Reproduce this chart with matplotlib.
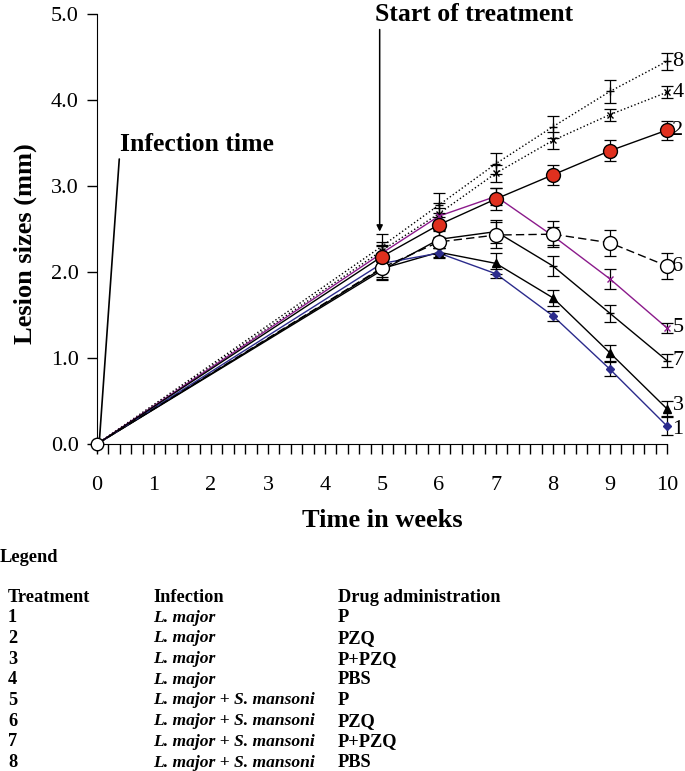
import matplotlib
matplotlib.use("Agg")
import matplotlib.pyplot as plt
import numpy as np

plt.rcParams['font.family'] = ['Liberation Serif', 'DejaVu Serif']

# data: weeks and lesion sizes (mm) per treatment
weeks = [0, 5, 6, 7, 8, 9, 10]

t1 = [0, 2.10, 2.22, 1.98, 1.49, 0.87, 0.21]
t2 = [0, 2.18, 2.55, 2.85, 3.13, 3.41, 3.65]
t3 = [0, 2.04, 2.23, 2.10, 1.70, 1.06, 0.41]
t4 = [0, 2.25, 2.68, 3.15, 3.53, 3.83, 4.09]
t5 = [0, 2.22, 2.65, 2.88, 2.42, 1.92, 1.35]
t6 = [0, 2.05, 2.35, 2.43, 2.44, 2.34, 2.07]
t7 = [0, 2.02, 2.38, 2.47, 2.07, 1.52, 0.97]
t8 = [0, 2.30, 2.78, 3.26, 3.69, 4.10, 4.45]

e1 = [0, 0.08, 0.06, 0.05, 0.06, 0.08, 0.10]
e2 = [0, 0.12, 0.14, 0.13, 0.12, 0.12, 0.11]
e3 = [0, 0.10, 0.05, 0.12, 0.09, 0.09, 0.09]
e4 = [0, 0.10, 0.12, 0.10, 0.10, 0.07, 0.07]
e5 = [0, 0.10, 0.10, 0.10, 0.10, 0.12, 0.06]
e6 = [0, 0.14, 0.14, 0.15, 0.15, 0.15, 0.15]
e7 = [0, 0.10, 0.10, 0.13, 0.12, 0.10, 0.08]
e8 = [0, 0.14, 0.14, 0.12, 0.13, 0.13, 0.10]

treatment_rows = ['1', '2', '3', '4', '5', '6', '7', '8']
infection_rows = ['L. major'] * 4 + ['L. major + S. mansoni'] * 4
drug_rows = ['P', 'PZQ', 'P+PZQ', 'PBS', 'P', 'PZQ', 'P+PZQ', 'PBS']

# style per series: (values, errors, line colour, linestyle, marker, marker face, marker size)
series = [
    (t8, e8, 'black', ':', '+', 'black', 6),
    (t4, e4, 'black', ':', 'x', 'black', 4),
    (t7, e7, 'black', '-', '_', 'black', 6),
    (t3, e3, 'black', '-', '^', 'black', 6),
    (t1, e1, '#2b2b8c', '-', 'D', '#2b2b8c', 4),
    (t5, e5, '#8b1a8b', '-', 'x', '#8b1a8b', 5),
    (t6, e6, 'black', (0, (6, 3)), 'o', 'white', 10),
    (t2, e2, 'black', '-', 'o', '#e0301e', 10),
]
right_labels = ['8', '4', '7', '3', '1', '5', '6', '2']
# small vertical nudges (points) so the close end labels 3 and 1 do not collide
label_nudge = {'3': 2.5, '1': -2.5}

fig = plt.figure(figsize=(6.85, 7.71), dpi=100)
ax = fig.add_axes([0.1416, 0.4241, 0.832, 0.5577])

for (vals, errs, col, ls, mk, mfc, ms), lab in zip(series, right_labels):
    ax.plot(weeks, vals, color=col, linestyle=ls, lw=1.0, zorder=2, clip_on=False)
    ax.errorbar(weeks[1:], vals[1:], yerr=errs[1:], fmt='none', ecolor='black',
                elinewidth=0.9, capsize=4, capthick=0.9, zorder=3, clip_on=False)
    ax.plot(weeks[1:], vals[1:], linestyle='none', marker=mk, markersize=ms,
            markerfacecolor=mfc, markeredgecolor='black' if mk in ('o', '^') else col,
            markeredgewidth=1.0, zorder=4, clip_on=False)
    ax.annotate(lab, xy=(weeks[-1], vals[-1]), xytext=(4, label_nudge.get(lab, 0)),
                textcoords='offset points', fontsize=16, ha='left', va='center',
                annotation_clip=False)

# open circle marker at the origin
ax.plot([weeks[0]], [t6[0]], marker='o', markersize=9, markerfacecolor='white',
        markeredgecolor='black', linestyle='none', zorder=5, clip_on=False)

ax.set_xlim(0, 10)
ax.set_ylim(0, 5.0)
ax.set_xticks(np.arange(0, 11, 1))
ax.set_xticks(np.arange(0, 10.01, 0.2), minor=True)
ax.set_yticks(np.arange(0, 5.01, 1.0))
ax.yaxis.set_major_formatter(matplotlib.ticker.FormatStrFormatter('%.1f'))
ax.tick_params(axis='both', which='major', direction='out', length=7, width=1.0,
               labelsize=16)
ax.tick_params(axis='x', which='minor', direction='out', length=7, width=1.0)
ax.tick_params(axis='x', which='major', pad=16)
ax.tick_params(axis='y', which='major', pad=6)
ax.spines['top'].set_visible(False)
ax.spines['right'].set_visible(False)

ax.set_xlabel('Time in weeks', fontsize=19, fontweight='bold', labelpad=10)
ax.set_ylabel('Lesion sizes (mm)', fontsize=19, fontweight='bold', labelpad=10, y=0.467)

# annotations
ax.annotate('Infection time', xy=(0.04, 0.02), xytext=(0.4, 3.48),
            fontsize=18.5, fontweight='bold', ha='left', va='center',
            arrowprops=dict(arrowstyle='-', color='black', lw=1.2,
                            relpos=(0.0, 0.2), shrinkA=0, shrinkB=0))
ax.text(4.88, 5.0, 'Start of treatment', fontsize=18.5, fontweight='bold',
        ha='left', va='center', clip_on=False)
ax.annotate('', xy=(4.96, 2.47), xytext=(4.96, 4.82),
            arrowprops=dict(arrowstyle='-|>', color='black', lw=1.1,
                            mutation_scale=9, shrinkA=0, shrinkB=0),
            annotation_clip=False)

# legend table below the chart
fs = 13.2
fig.text(0.0, 1 - 557 / 771, 'Legend', fontsize=fs, fontweight='bold', va='center')
col_x = [8 / 685, 153 / 685, 338 / 685]
header_y = 1 - 597 / 771
row_step = 20.7 / 771
fig.text(col_x[0], header_y, 'Treatment', fontsize=fs, fontweight='bold', va='center')
fig.text(col_x[1], header_y, 'Infection', fontsize=fs, fontweight='bold', va='center')
fig.text(col_x[2], header_y, 'Drug administration', fontsize=fs, fontweight='bold', va='center')
for i, (tr, inf, dr) in enumerate(zip(treatment_rows, infection_rows, drug_rows)):
    y = header_y - (i + 1) * row_step
    fig.text(col_x[0], y, tr, fontsize=fs, fontweight='bold', va='center')
    fig.text(col_x[1], y, inf, fontsize=12.6, fontweight='bold', fontstyle='italic', va='center')
    fig.text(col_x[2], y, dr, fontsize=fs, fontweight='bold', va='center')

fig.savefig('out.png', dpi=100)
